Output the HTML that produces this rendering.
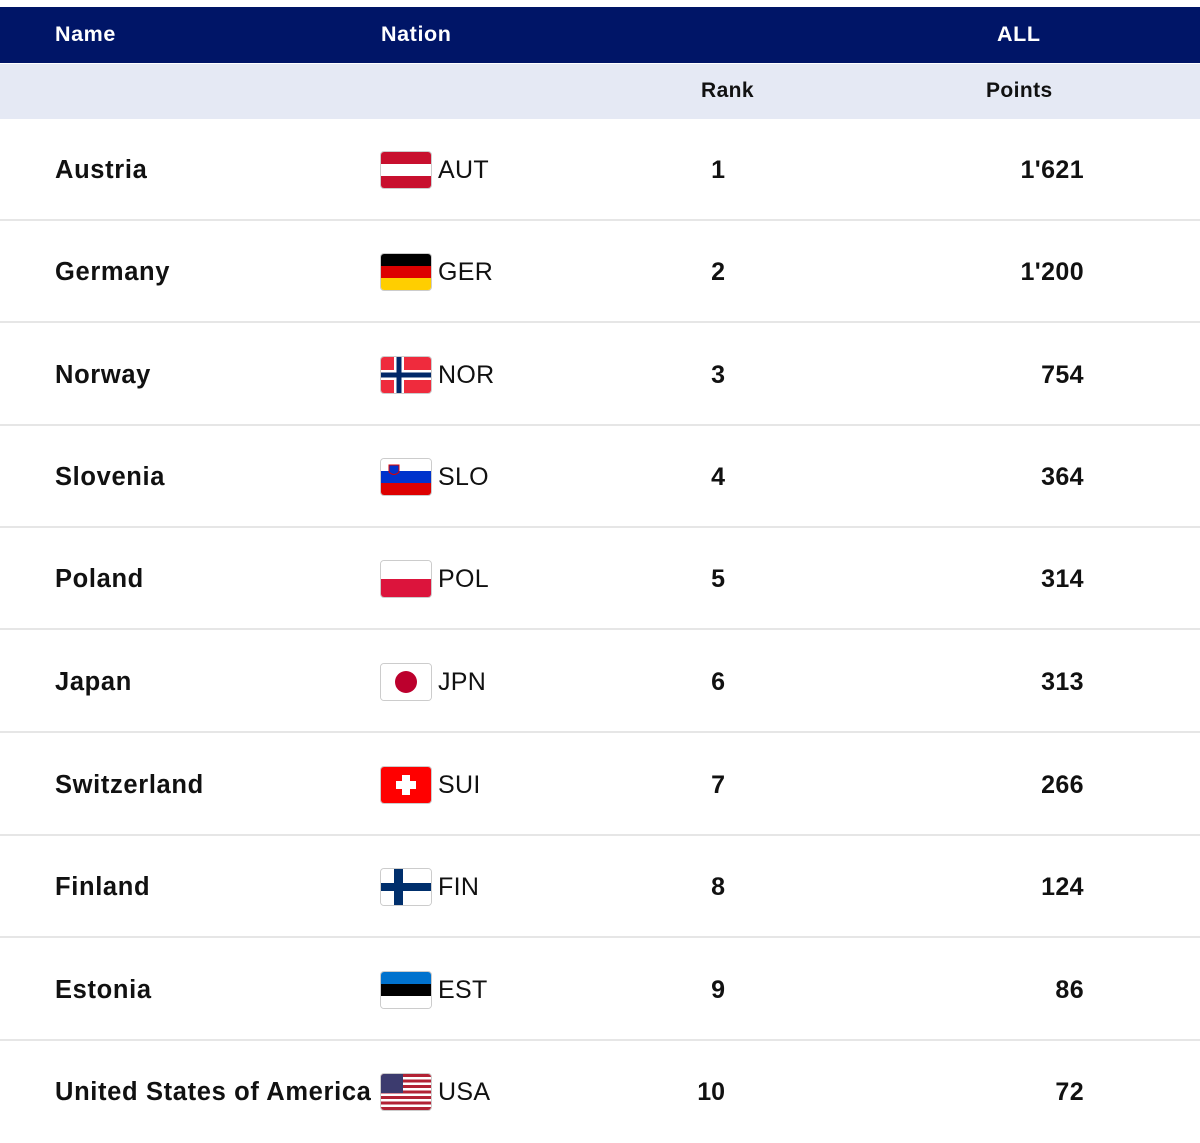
<!DOCTYPE html>
<html><head><meta charset="utf-8"><style>
body{margin:0;width:1200px;height:1142px;background:#fff;position:relative;overflow:hidden;font-family:"Liberation Sans",Arial,sans-serif;color:#111;}
.hd{position:absolute;left:0;top:7px;width:1200px;height:56px;background:#001567;}
.sh{position:absolute;left:0;top:64px;width:1200px;height:55px;background:#e5e9f4;}
.t{position:absolute;white-space:nowrap;}
.h{color:#fff;font-weight:bold;font-size:21.5px;top:22px;letter-spacing:0.6px;}
.s{font-weight:bold;font-size:21px;top:79px;color:#111;letter-spacing:0.4px;}
.row{position:absolute;left:0;width:1200px;height:102px;border-bottom:2px solid #e6e6e6;box-sizing:border-box;}
.nm{position:absolute;left:55px;top:37px;font-weight:bold;font-size:25.5px;letter-spacing:0.65px;}
.fl{position:absolute;left:381px;top:33px;width:50px;height:36px;border-radius:3px;overflow:hidden;box-shadow:0 0 0 1px #ccc;}
.fl svg{display:block}
.cd{position:absolute;left:438px;top:37px;font-size:25px;letter-spacing:0.3px;}
.rk{position:absolute;right:475px;top:37px;font-weight:bold;font-size:25px;}
.pt{position:absolute;right:116px;top:37px;font-weight:bold;font-size:25px;letter-spacing:0.4px;}
</style></head><body>
<div class="hd"></div><div class="sh"></div>
<div class="t h" style="left:55px">Name</div>
<div class="t h" style="left:381px">Nation</div>
<div class="t h" style="left:997px">ALL</div>
<div class="t s" style="left:701px">Rank</div>
<div class="t s" style="left:986px">Points</div>

<div class="row" style="top:119px"><div class="nm">Austria</div><div class="fl"><svg width="50" height="36"><rect width="50" height="36" fill="#c8102e"/><rect y="12" width="50" height="12" fill="#fff"/></svg></div><div class="cd">AUT</div><div class="rk">1</div><div class="pt">1'621</div></div>
<div class="row" style="top:221px"><div class="nm">Germany</div><div class="fl"><svg width="50" height="36"><rect width="50" height="12" fill="#000"/><rect y="12" width="50" height="12" fill="#dd0000"/><rect y="24" width="50" height="12" fill="#ffce00"/></svg></div><div class="cd">GER</div><div class="rk">2</div><div class="pt">1'200</div></div>
<div class="row" style="top:324px"><div class="nm">Norway</div><div class="fl"><svg width="50" height="36"><rect width="50" height="36" fill="#ef2b3d"/><rect x="13" width="10" height="36" fill="#fff"/><rect y="13" width="50" height="10" fill="#fff"/><rect x="15.5" width="5" height="36" fill="#002868"/><rect y="15.5" width="50" height="5" fill="#002868"/></svg></div><div class="cd">NOR</div><div class="rk">3</div><div class="pt">754</div></div>
<div class="row" style="top:426px"><div class="nm">Slovenia</div><div class="fl"><svg width="50" height="36"><rect width="50" height="12" fill="#fff"/><rect y="12" width="50" height="12" fill="#0033cc"/><rect y="24" width="50" height="12" fill="#dd0000"/><path d="M8 6h10v7q-5 5-10 0z" fill="#0033cc" stroke="#d00" stroke-width="1"/></svg></div><div class="cd">SLO</div><div class="rk">4</div><div class="pt">364</div></div>
<div class="row" style="top:528px"><div class="nm">Poland</div><div class="fl"><svg width="50" height="36"><rect width="50" height="18" fill="#fff"/><rect y="18" width="50" height="18" fill="#dc143c"/></svg></div><div class="cd">POL</div><div class="rk">5</div><div class="pt">314</div></div>
<div class="row" style="top:631px"><div class="nm">Japan</div><div class="fl"><svg width="50" height="36"><rect width="50" height="36" fill="#fff"/><circle cx="25" cy="18" r="11" fill="#bc002d"/></svg></div><div class="cd">JPN</div><div class="rk">6</div><div class="pt">313</div></div>
<div class="row" style="top:734px"><div class="nm">Switzerland</div><div class="fl"><svg width="50" height="36"><rect width="50" height="36" fill="#ff0000"/><rect x="21" y="8" width="8" height="20" fill="#fff"/><rect x="15" y="14" width="20" height="8" fill="#fff"/></svg></div><div class="cd">SUI</div><div class="rk">7</div><div class="pt">266</div></div>
<div class="row" style="top:836px"><div class="nm">Finland</div><div class="fl"><svg width="50" height="36"><rect width="50" height="36" fill="#fff"/><rect x="13" width="9" height="36" fill="#002f6c"/><rect y="14" width="50" height="8" fill="#002f6c"/></svg></div><div class="cd">FIN</div><div class="rk">8</div><div class="pt">124</div></div>
<div class="row" style="top:939px"><div class="nm">Estonia</div><div class="fl"><svg width="50" height="36"><rect width="50" height="12" fill="#0072ce"/><rect y="12" width="50" height="12" fill="#000"/><rect y="24" width="50" height="12" fill="#fff"/></svg></div><div class="cd">EST</div><div class="rk">9</div><div class="pt">86</div></div>
<div class="row" style="top:1041px;border-bottom:none"><div class="nm">United States of America</div><div class="fl"><svg width="50" height="36"><rect width="50" height="36" fill="#fff"/><g fill="#b22234"><rect y="0" width="50" height="3"/><rect y="5.5" width="50" height="3"/><rect y="11" width="50" height="3"/><rect y="16.5" width="50" height="3"/><rect y="22" width="50" height="3"/><rect y="27.5" width="50" height="3"/><rect y="33" width="50" height="3"/></g><rect width="22" height="19" fill="#3c3b6e"/></svg></div><div class="cd">USA</div><div class="rk">10</div><div class="pt">72</div></div>
</body></html>
